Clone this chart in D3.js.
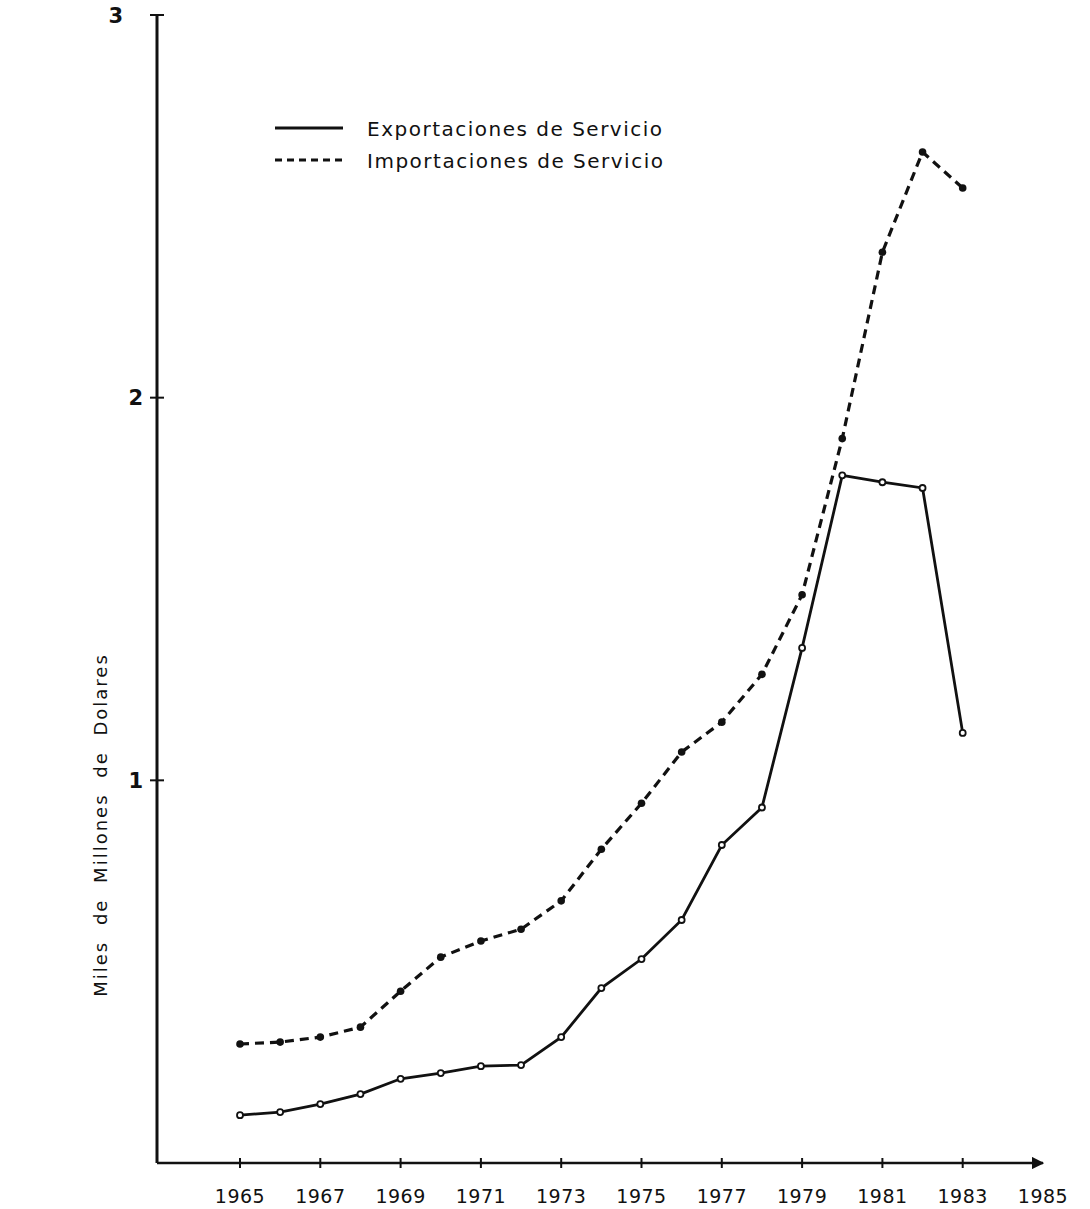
<!DOCTYPE html>
<html lang="es">
<head>
  <meta charset="UTF-8">
  <title>Exportaciones e Importaciones de Servicio</title>
  <script src="https://d3js.org/d3.v7.min.js"></script>
  <style>
    body { margin: 0; background: #fff; }
    svg { display: block; }
    text { font-family: "DejaVu Sans", sans-serif; fill: #111; }
  </style>
</head>
<body>
  <svg id="chart" width="1090" height="1209"></svg>
  <script>
    // Values (thousand millions of dollars)
    const years = [1965, 1966, 1967, 1968, 1969, 1970, 1971, 1972, 1973, 1974,
                   1975, 1976, 1977, 1978, 1979, 1980, 1981, 1982, 1983];
    const exportaciones = [0.125, 0.133, 0.154, 0.18, 0.22, 0.235, 0.253, 0.256, 0.329, 0.457,
                           0.533, 0.635, 0.831, 0.929, 1.346, 1.797, 1.779, 1.764, 1.124];
    const importaciones = [0.311, 0.316, 0.329, 0.355, 0.449, 0.538, 0.58, 0.611, 0.685, 0.82,
                           0.94, 1.074, 1.152, 1.277, 1.485, 1.893, 2.38, 2.642, 2.548];
    const xTicks = [1965, 1967, 1969, 1971, 1973, 1975, 1977, 1979, 1981, 1983, 1985];
    const yTicks = [1, 2, 3];

    const svg = d3.select("#chart");
    const x0 = 157, y0 = 1163;

    const x = d3.scaleLinear().domain([1965, 1985]).range([240, 1043]);
    const y = d3.scaleLinear().domain([0, 3]).range([y0, 15]);

    // arrow head for the x axis
    svg.append("defs").append("marker")
      .attr("id", "arrow")
      .attr("viewBox", "0 0 10 10")
      .attr("refX", 9).attr("refY", 5)
      .attr("markerWidth", 5).attr("markerHeight", 5)
      .attr("orient", "auto")
      .append("path").attr("d", "M0,0 L10,5 L0,10 z").attr("fill", "#111");

    // axes lines
    svg.append("line")
      .attr("x1", x0).attr("y1", y0).attr("x2", x(1985)).attr("y2", y0)
      .attr("stroke", "#111").attr("stroke-width", 2.5)
      .attr("marker-end", "url(#arrow)");
    svg.append("line")
      .attr("x1", x0).attr("y1", y0).attr("x2", x0).attr("y2", y(3))
      .attr("stroke", "#111").attr("stroke-width", 3);

    // x ticks and labels
    const xt = svg.append("g").selectAll("g").data(xTicks).join("g")
      .attr("transform", d => `translate(${x(d)},${y0})`);
    xt.filter(d => d < 1985).append("line")
      .attr("y1", -5).attr("y2", 5)
      .attr("stroke", "#111").attr("stroke-width", 2);
    xt.append("text")
      .attr("y", 40)
      .attr("text-anchor", "middle")
      .attr("font-size", 19)
      .attr("letter-spacing", 0.5)
      .text(d => d);

    // y ticks and labels
    const yt = svg.append("g").selectAll("g").data(yTicks).join("g")
      .attr("transform", d => `translate(${x0},${y(d)})`);
    yt.append("line")
      .attr("x1", -7).attr("x2", 7)
      .attr("stroke", "#111").attr("stroke-width", 2);
    yt.append("text")
      .attr("x", d => d === 3 ? -34 : -14)
      .attr("dy", "0.36em")
      .attr("text-anchor", "end")
      .attr("font-size", 21)
      .attr("font-weight", "bold")
      .text(d => d);

    // y axis title
    svg.append("text")
      .attr("transform", `translate(107,825) rotate(-90)`)
      .attr("text-anchor", "middle")
      .attr("font-size", 18)
      .attr("letter-spacing", 2)
      .attr("word-spacing", 8)
      .text("Miles de Millones de Dolares");

    const line = d3.line()
      .x((d, i) => x(years[i]))
      .y(d => y(d));

    svg.append("path")
      .datum(importaciones)
      .attr("d", line)
      .attr("fill", "none")
      .attr("stroke", "#111")
      .attr("stroke-width", 3.2)
      .attr("stroke-dasharray", "9,6");

    svg.append("path")
      .datum(exportaciones)
      .attr("d", line)
      .attr("fill", "none")
      .attr("stroke", "#111")
      .attr("stroke-width", 2.8);

    svg.append("g").selectAll("circle").data(importaciones).join("circle")
      .attr("cx", (d, i) => x(years[i]))
      .attr("cy", d => y(d))
      .attr("r", 3.8)
      .attr("fill", "#111");

    svg.append("g").selectAll("circle").data(exportaciones).join("circle")
      .attr("cx", (d, i) => x(years[i]))
      .attr("cy", d => y(d))
      .attr("r", 3)
      .attr("fill", "#fff")
      .attr("stroke", "#111")
      .attr("stroke-width", 1.8);

    // legend
    const legendItems = [
      { name: "Exportaciones de Servicio", dash: null },
      { name: "Importaciones de Servicio", dash: "7,5" }
    ];
    const legend = svg.append("g").attr("transform", "translate(275,128)");
    legendItems.forEach((s, i) => {
      const g = legend.append("g").attr("transform", `translate(0,${i * 32})`);
      g.append("line")
        .attr("x1", 0).attr("x2", 68)
        .attr("stroke", "#111").attr("stroke-width", 2.8)
        .attr("stroke-dasharray", s.dash);
      g.append("text")
        .attr("x", 92).attr("y", 8)
        .attr("font-size", 20)
        .attr("letter-spacing", 1.5)
        .text(s.name);
    });
  </script>
</body>
</html>
